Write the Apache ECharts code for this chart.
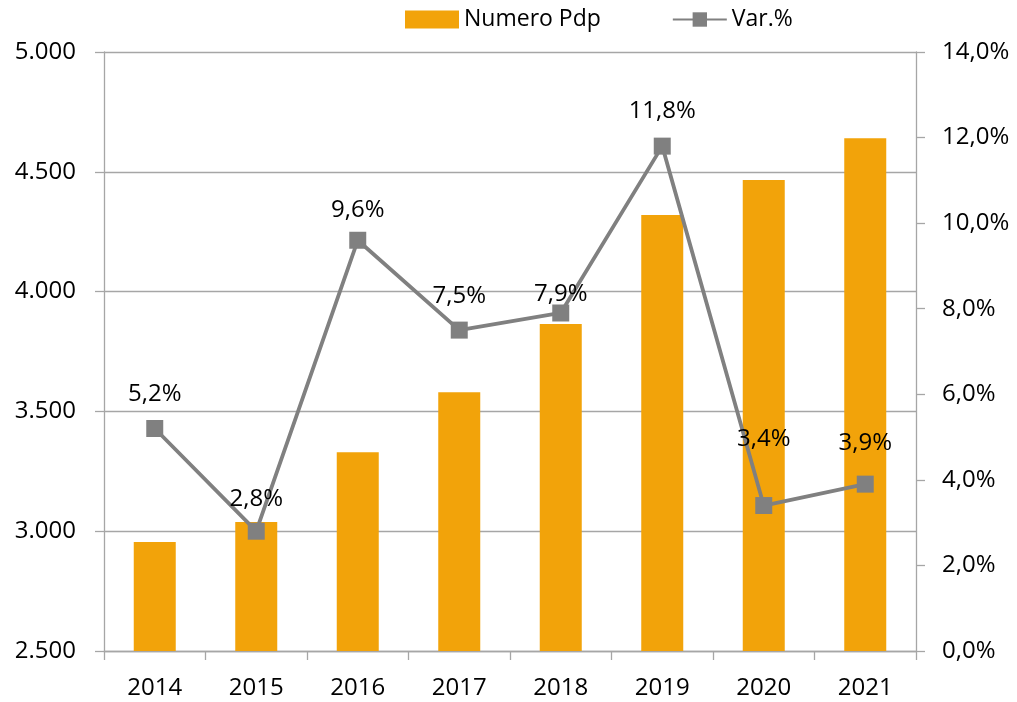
<!DOCTYPE html>
<html>
<head>
<meta charset="utf-8">
<script src="https://cdn.jsdelivr.net/npm/echarts@6/dist/echarts.min.js"></script>
<style>
  html, body { margin: 0; padding: 0; background: #fff; }
  #chart { width: 1017px; height: 702px; }
</style>
</head>
<body>
<div id="chart"></div>
<script>
// Years on the category axis
const years = ['2014', '2015', '2016', '2017', '2018', '2019', '2020', '2021'];
// Number of points of delivery (left axis)
const numeroPdp = [2955, 3038, 3330, 3580, 3865, 4320, 4466, 4640];
// Year-on-year change, percent (right axis)
const varPct = [5.2, 2.8, 9.6, 7.5, 7.9, 11.8, 3.4, 3.9];

const FONT = '"Open Sans", "Noto Sans", sans-serif';
const GRID_COLOR = '#a6a6a6';

// Vertical gap between each percentage label and its marker
const labelGap = [14, 12, 10, 13, -2, 14, 46, 20];

const chart = echarts.init(document.getElementById('chart'), null, { renderer: 'canvas' });

chart.setOption({
  animation: false,
  textStyle: { fontFamily: FONT },
  legend: {
    top: 3,
    left: 400,
    itemGap: 71,
    itemWidth: 54,
    itemHeight: 18,
    textStyle: { fontFamily: FONT, fontSize: 23, color: '#000' },
    data: [
      { name: 'Numero Pdp', icon: 'rect' },
      { name: 'Var.%' }
    ]
  },
  grid: { left: 104, right: 101, top: 52, bottom: 51, containLabel: false },
  xAxis: {
    type: 'category',
    data: years,
    axisLine: { lineStyle: { color: GRID_COLOR, width: 1.3 } },
    axisTick: { show: true, length: 9, alignWithLabel: false, lineStyle: { color: GRID_COLOR, width: 1.3 } },
    axisLabel: { fontFamily: FONT, fontSize: 24, color: '#000', margin: 25 }
  },
  yAxis: [
    {
      type: 'value',
      min: 2500,
      max: 5000,
      interval: 500,
      axisLine: { show: true, lineStyle: { color: GRID_COLOR, width: 1.3 } },
      axisTick: { show: true, length: 9, lineStyle: { color: GRID_COLOR, width: 1.3 } },
      splitLine: { show: true, lineStyle: { color: GRID_COLOR, width: 1.3 } },
      axisLabel: {
        fontFamily: FONT, fontSize: 24, color: '#000', margin: 28,
        formatter: v => String(v).replace(/(\d)(\d{3})$/, '$1.$2')
      }
    },
    {
      type: 'value',
      min: 0,
      max: 14,
      interval: 2,
      position: 'right',
      axisLine: { show: true, lineStyle: { color: GRID_COLOR, width: 1.3 } },
      axisTick: { show: true, length: 9, lineStyle: { color: GRID_COLOR, width: 1.3 } },
      splitLine: { show: false },
      axisLabel: {
        fontFamily: FONT, fontSize: 24, color: '#000', margin: 26,
        formatter: v => v.toFixed(1).replace('.', ',') + '%'
      }
    }
  ],
  series: [
    {
      name: 'Numero Pdp',
      type: 'bar',
      yAxisIndex: 0,
      data: numeroPdp,
      barWidth: 42,
      itemStyle: { color: '#f2a30a' }
    },
    {
      name: 'Var.%',
      type: 'line',
      yAxisIndex: 1,
      data: varPct.map((v, i) => ({
        value: v,
        label: { distance: labelGap[i] }
      })),
      symbol: 'rect',
      symbolSize: 17,
      lineStyle: { color: '#808080', width: 3.8 },
      itemStyle: { color: '#808080' },
      z: 5,
      label: {
        show: true,
        position: 'top',
        fontFamily: FONT,
        fontSize: 24,
        color: '#000',
        formatter: p => p.value.toFixed(1).replace('.', ',') + '%'
      }
    }
  ]
});
</script>
</body>
</html>
